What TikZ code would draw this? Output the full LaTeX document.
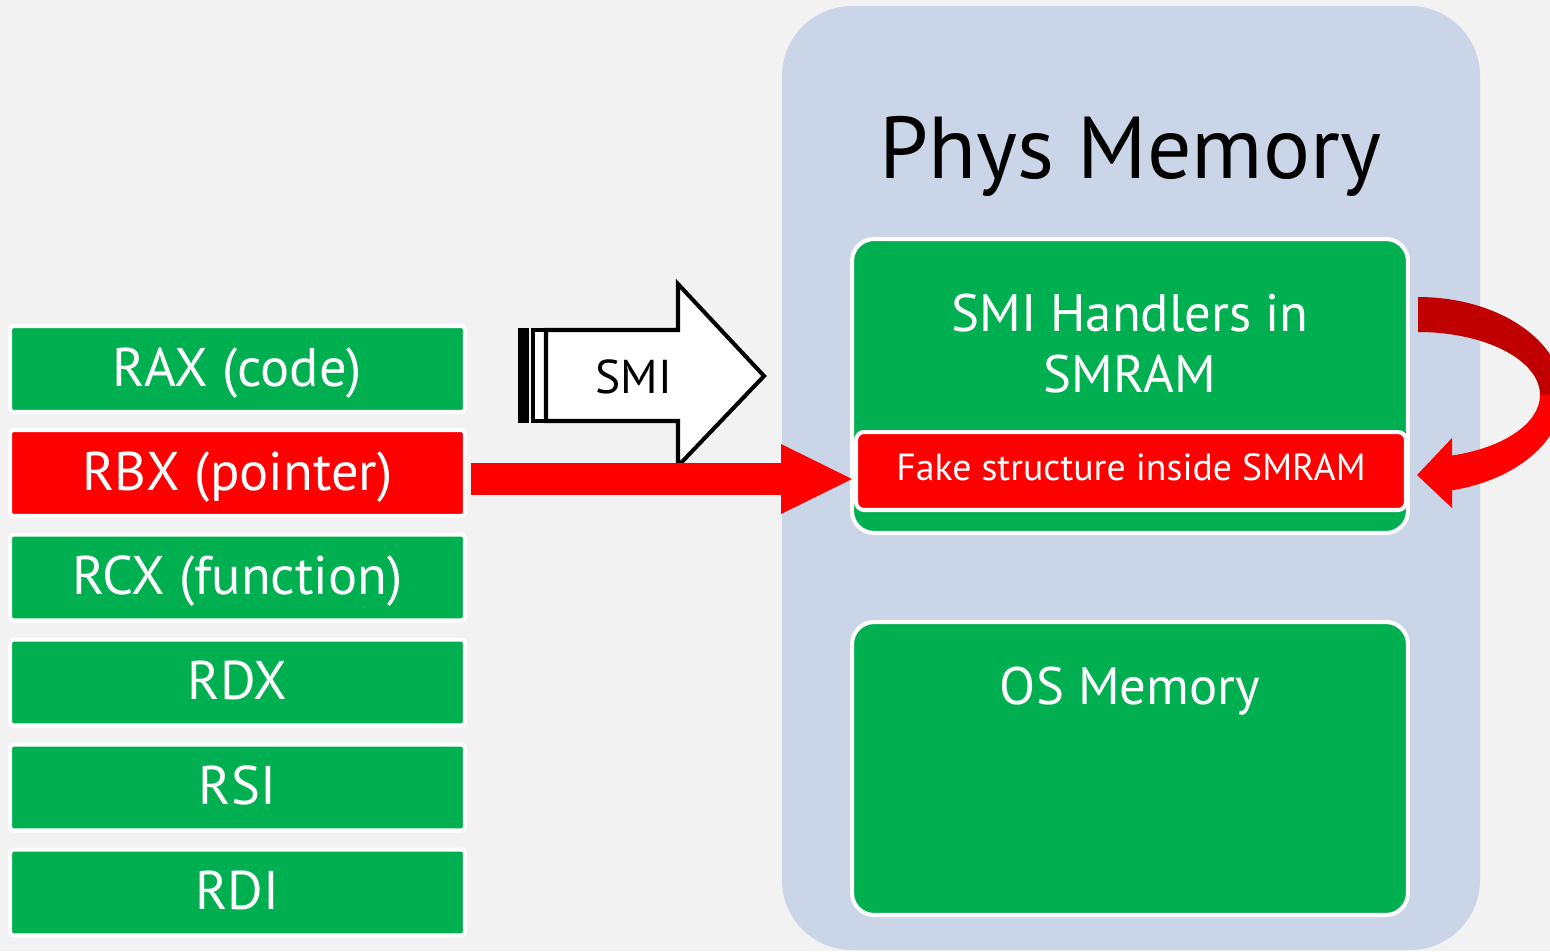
\documentclass[tikz,border=0pt]{standalone}
\usepackage{fontspec}
\setmainfont{PT Sans}
\usetikzlibrary{arrows.meta}
\definecolor{bggray}{HTML}{F2F2F2}
\definecolor{panelblue}{HTML}{CAD5E8}
\definecolor{boxgreen}{HTML}{00B050}
\definecolor{boxred}{HTML}{FF0000}
\definecolor{darkred}{HTML}{C00000}

\begin{document}
\begin{tikzpicture}[x=0.02cm,y=-0.02cm,
    reg/.style={draw=white,line width=2.3pt,rounded corners=2pt,text=white,
      minimum width=9.1cm,minimum height=1.72cm,inner sep=0pt,
      text height=21.7pt,text depth=2.2pt,
      font=\fontsize{31}{36}\selectfont},
    membox/.style={draw=white,fill=boxgreen,line width=2.3pt,rounded corners=0.44cm,
      minimum width=11.12cm,minimum height=5.88cm,inner sep=0pt},
    memtext/.style={text=white,align=center,font=\fontsize{30}{34.7}\selectfont}]
    \useasboundingbox (0,0) rectangle (1550,951);
    \fill[bggray] (0,0) rectangle (1550,951);
    \fill[panelblue,rounded corners=1.4cm] (782,6) rectangle (1480,950);

    \node[font=\fontsize{50}{60}\selectfont,text height=35pt,text depth=0pt] (title)
      at (1130,148) {Phys Memory};

    \node[reg,fill=boxgreen] (rax) at (237.5,369) {RAX (code)};
    \node[reg,fill=boxred] (rbx) at (237.5,473) {RBX (pointer)};
    \node[reg,fill=boxgreen] (rcx) at (237.5,577.5) {RCX (function)};
    \node[reg,fill=boxgreen] (rdx) at (237.5,682.5) {RDX};
    \node[reg,fill=boxgreen] (rsi) at (237.5,787.5) {RSI};
    \node[reg,fill=boxgreen] (rdi) at (237.5,892.5) {RDI};

    \node[membox] (smram) at (1130,386) {};
    \node[memtext] (smramtext) at (1130,344) {SMI Handlers in\\SMRAM};
    \node[draw=white,fill=boxred,line width=2.3pt,rounded corners=0.16cm,
      minimum width=11cm,minimum height=1.56cm,text=white,inner sep=0pt,
      text height=15pt,text depth=4pt,
      font=\fontsize{21.5}{24}\selectfont] (fake) at (1131,471) {Fake structure inside SMRAM};
    \node[membox,minimum height=5.86cm] (osmem) at (1130,768.5) {};
    \node[memtext,text height=21pt,text depth=0pt] (ostext) at (1130,686) {OS Memory};

    \fill[black] (518,328) rectangle (529,423);
    \draw[line width=2.3pt,fill=white] (533,330) rectangle (546,421);
    \draw[line width=2.3pt,fill=white,line join=miter] (546,330) -- (678,330) -- (678,284)
      -- (764,376) -- (678,466) -- (678,421) -- (546,421) -- cycle;
    \node[font=\fontsize{27}{30}\selectfont,text height=19pt,text depth=0pt] (smi)
      at (634,377) {SMI};

    \draw[boxred,line width=18.2pt,-{Triangle[length=41.5pt,width=36.4pt]}]
      ([yshift=-0.12cm,xshift=0.08cm]rbx.east) -- ([yshift=-0.12cm]rbx.east -| fake.west);

    \fill[darkred] (1418,297) arc[start angle=-90,end angle=0,x radius=145,y radius=98]
      -- (1540,395) arc[start angle=0,end angle=-90,x radius=122,y radius=63] -- cycle;
    \fill[boxred] (1563,395) arc[start angle=0,end angle=76.4,x radius=145,y radius=98]
      -- (1452,455.5) arc[start angle=73.8,end angle=0,x radius=122,y radius=63] -- cycle;
    \fill[boxred] (1452,438) -- (1417,475) -- (1452,508) -- cycle;
\end{tikzpicture}
\end{document}
